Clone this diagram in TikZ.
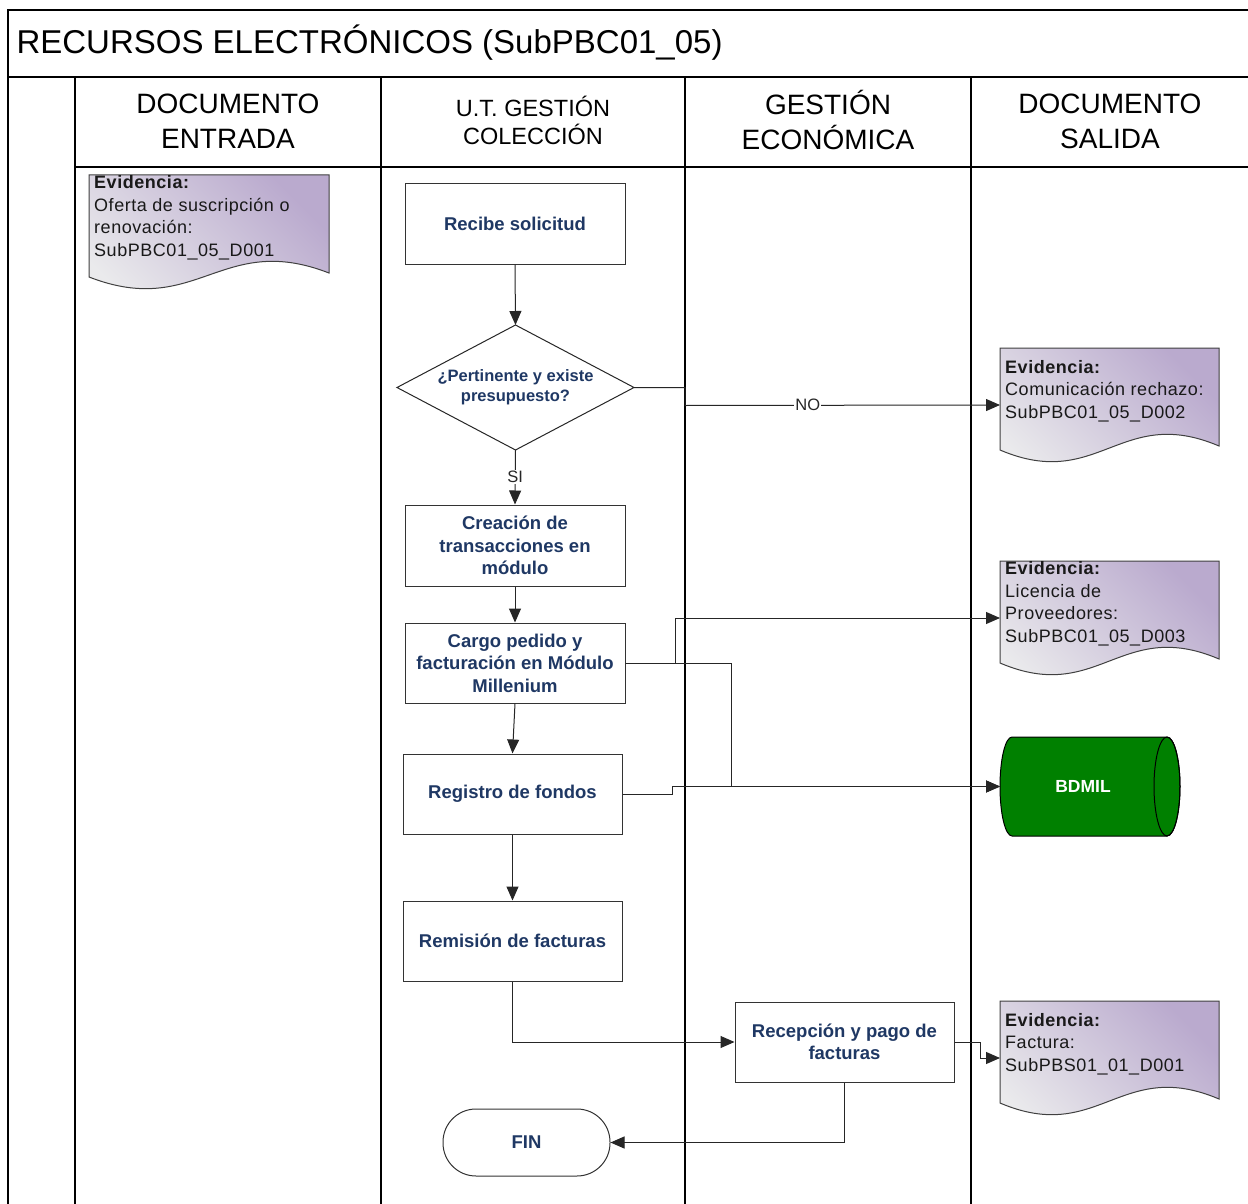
\documentclass[tikz,border=0pt]{standalone}
\usepackage{fontspec}
\setmainfont{Liberation Sans}
\newfontfamily\spacedfont[LetterSpace=3]{Liberation Sans}
\usetikzlibrary{arrows.meta}
\definecolor{navy}{RGB}{31,56,100}
\definecolor{docpurple}{RGB}{186,170,206}
\definecolor{docgray}{RGB}{234,234,236}
\definecolor{dbgreen}{RGB}{0,128,0}
\tikzset{
  lane/.style={line width=1.5pt, black},
  proc/.style={draw=black!80, line width=1pt, fill=white, inner sep=2pt, align=center,
    text=navy, font=\fontsize{18.5}{22.5}\selectfont\bfseries},
  decis/.style={inner sep=0pt, outer sep=0pt, align=center, text=navy,
    font=\fontsize{16.5}{20}\selectfont\bfseries},
  con/.style={line width=1pt, black!85},
  arr/.style={con, -{Triangle[length=14pt,width=12pt]}},
  hdr/.style={align=center, font=\fontsize{28}{35}\selectfont},
  docanchor/.style={inner sep=0pt, outer sep=0pt},
  docstyle/.style={draw=black!75, line width=1pt, top color=docpurple, bottom color=docgray, shading angle=-45},
  doctext/.style={align=left, inner sep=0pt, text=black!90, font=\spacedfont\fontsize{18}{22.5}\selectfont},
  lbl/.style={fill=white, inner sep=1pt, font=\fontsize{16.5}{18}\selectfont}
}
\newcommand\evdoc[5]{%
  \node[docanchor, minimum width=#4pt, minimum height=114pt, anchor=north west] (#1) at (#2,#3) {};
  \path[docstyle] (#2,#3) -- ({#2+#4},#3) -- ({#2+#4},{#3+98})
    .. controls ({#2+0.55*#4},{#3+98-42}) and ({#2+0.45*#4},{#3+102+42}) .. (#2,{#3+102}) -- cycle;
  \node[doctext, anchor=west] at ({#2+5},{#3+43}) {#5};
}
\begin{document}
\begin{tikzpicture}[x=1pt,y=-1pt]
\useasboundingbox[fill=white] (0,0) rectangle (1248,1204);
% frame and lanes
\draw[lane] (1248,10) -- (8,10) -- (8,1204);
\draw[lane] (8,77) -- (1248,77);
\draw[lane] (75,167) -- (1248,167);
\draw[lane] (75,77) -- (75,1204);
\draw[lane] (381,77) -- (381,1204);
\draw[lane] (685,77) -- (685,1204);
\draw[lane] (971,77) -- (971,1204);
% title and headers
\node[anchor=west, font=\fontsize{33}{38}\selectfont] (title) at (13,43) {RECURSOS ELECTRÓNICOS (SubPBC01\_05)};
\node[hdr] (h1) at (228,121.5) {DOCUMENTO\\ENTRADA};
\node[align=center, font=\fontsize{23.5}{28}\selectfont] (h2) at (533,120) {U.T. GESTIÓN\\COLECCIÓN};
\node[hdr] (h3) at (828,119.5) {GESTIÓN\\ECONÓMICA};
\node[hdr] (h4) at (1110,121.5) {DOCUMENTO\\SALIDA};
% documents
\evdoc{d1}{89}{175}{240}{\textbf{Evidencia:}\\Oferta de suscripción o\\renovación:\\SubPBC01\_05\_D001}
\evdoc{d2}{1000}{348}{219}{\textbf{Evidencia:}\\Comunicación rechazo:\\SubPBC01\_05\_D002}
\evdoc{d3}{1000}{561}{219}{\textbf{Evidencia:}\\Licencia de\\Proveedores:\\SubPBC01\_05\_D003}
\evdoc{d4}{1000}{1001}{219}{\textbf{Evidencia:}\\Factura:\\SubPBS01\_01\_D001}
% database
\node[docanchor, minimum width=180pt, minimum height=99pt] (bd) at (1090,786.5) {};
\path[fill=dbgreen, draw=black, line width=1pt] (1012,737) -- (1167,737)
  arc[start angle=90, end angle=-90, x radius=13pt, y radius=49.5pt] -- (1012,836)
  arc[start angle=-90, end angle=-270, x radius=12pt, y radius=49.5pt] -- cycle;
\draw[black, line width=1pt] (1167,786.5) ellipse[x radius=13pt, y radius=49.5pt];
\node[text=white, font=\fontsize{17.5}{20}\selectfont\bfseries] at (1083,786.5) {BDMIL};
% process nodes
\node[proc, minimum width=220pt, minimum height=80pt] (n1) at (515,224) {Recibe solicitud};
\node[docanchor, minimum width=237pt, minimum height=125pt] (dm) at (515.5,387.5) {};
\draw[black!85, line width=1pt, fill=white] (dm.north) -- (dm.east) -- (dm.south) -- (dm.west) -- cycle;
\node[decis] at (515.5,387) {¿Pertinente y existe\\presupuesto?};
\node[proc, minimum width=220pt, minimum height=81pt] (n2) at (515,545.5) {Creación de\\transacciones en\\módulo};
\node[proc, minimum width=220pt, minimum height=80pt] (n3) at (515,663) {Cargo pedido y\\facturación en Módulo\\Millenium};
\node[proc, minimum width=219pt, minimum height=80pt] (n4) at (512.5,794) {Registro de fondos};
\node[proc, minimum width=219pt, minimum height=80pt] (n5) at (512.5,941) {Remisión de facturas};
\node[proc, minimum width=219pt, minimum height=80pt] (n6) at (844.5,1042) {Recepción y pago de\\facturas};
\node[proc, rounded corners=33pt, minimum width=167pt, minimum height=67pt] (fin) at (526.5,1142.5) {FIN};
% connectors
\draw[arr] (n1.south) -- (dm.north);
\draw[arr] (dm.south) -- node[lbl]{SI} (n2.north);
\draw[arr] (dm.east) -- ++(51,0) -- ++(0,18) -- node[lbl, pos=0.39]{NO} (d2.west);
\draw[arr] (n2.south) -- (n3.north);
\draw[arr] (n3.south) -- (n4.north);
\draw[arr] (n3.east) -- ++(50,0) |- (d3.west);
\draw[arr] (n3.east) -- ++(106,0) |- (bd.west);
\draw[arr] (n4.east) -- ++(50,0) |- (bd.west);
\draw[arr] (n4.south) -- (n5.north);
\draw[arr] (n5.south) |- (n6.west);
\draw[arr] (n6.east) -- ++(26,0) |- (d4.west);
\draw[arr] (n6.south) |- (fin.east);
\end{tikzpicture}
\end{document}
